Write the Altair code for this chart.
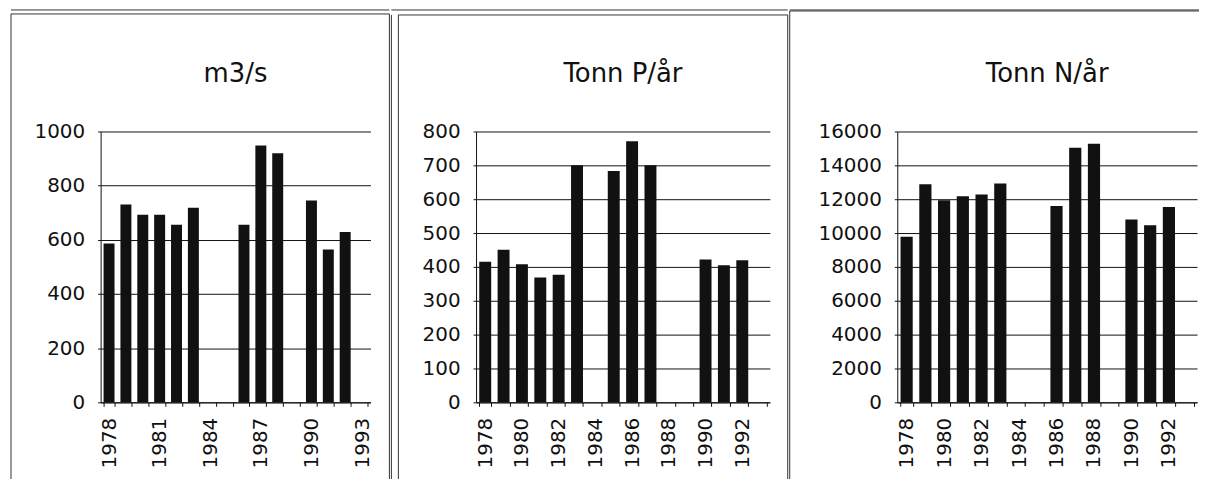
import altair as alt
import pandas as pd

years = list(range(1978, 1994))
flow = [586, 730, 693, 693, 656, 718, None, None, 656, 948, 920, None, 745, 564, 629, None]
phos = [415, 451, 408, 369, 377, 700, None, 683, 771, 700, None, None, 422, 405, 420, None]
nitro = [9780, 12880, 11940, 12170, 12270, 12920, None, None, 11600, 15040, 15270, None, 10800, 10460, 11540, None]

titles = ["m3/s", "Tonn P/år", "Tonn N/år"]
y_max = [1000, 800, 16000]
y_step = [200, 100, 2000]
label_every = [3, 2, 2]

FONT = "DejaVu Sans"
INK = "#111111"
FRAME = "#333333"
H = 272
one = pd.DataFrame({"k": [0]})


def rule(x, x2, y, y2):
    return alt.Chart(one).mark_rule(color=FRAME, strokeWidth=1).encode(
        x=alt.value(x), x2=alt.value(x2), y=alt.value(y), y2=alt.value(y2)
    )


def panel(values, title, ymax, ystep, every, width, frame):
    df = pd.DataFrame({"year": years, "v": values})
    bars = alt.Chart(df).mark_bar(color=INK).encode(
        x=alt.X(
            "year:O",
            scale=alt.Scale(domain=years, paddingInner=0.35, paddingOuter=0.175),
            axis=alt.Axis(
                title=None,
                labelExpr=f"(datum.value - 1978) % {every} == 0 ? datum.label : ''",
                labelAngle=270,
                labelAlign="right",
                labelBaseline="middle",
                labelPadding=11,
                labelFont=FONT,
                labelFontSize=20,
                labelColor=INK,
                labelOverlap=False,
                tickBand="extent",
                tickSize=4,
                tickColor=INK,
                domainColor=INK,
                grid=False,
            ),
        ),
        y=alt.Y(
            "v:Q",
            scale=alt.Scale(domain=[0, ymax], nice=False),
            axis=alt.Axis(
                title=None,
                values=list(range(0, ymax + 1, ystep)),
                format="d",
                labelFont=FONT,
                labelFontSize=20,
                labelColor=INK,
                labelPadding=13,
                tickSize=3,
                tickColor=INK,
                domainColor=INK,
                grid=True,
                gridColor=INK,
                gridWidth=1,
            ),
        ),
    )
    ttl = alt.Chart(one).mark_text(
        text=title, font=FONT, fontSize=26, color=INK,
        align="center", baseline="alphabetic",
    ).encode(x=alt.value(width / 2), y=alt.value(-50))
    layers = [bars, ttl] + frame
    return alt.layer(*layers).properties(width=width, height=H)


W1, W2, W3 = 271, 295, 301
frame1 = [
    rule(-90, -90, -118, 349),
    rule(290, 290, -118, 349),
    rule(-90, 290, -118, -118),
    rule(-90, 290, -122, -122),
]
frame2 = [
    rule(-85, -85, -117, 349),
    rule(-78, -78, -117, 349),
    rule(313, 313, -117, 349),
    rule(-78, 313, -117, -117),
    rule(-85, 313, -122, -122),
]
frame3 = [
    rule(-108, -108, -121, 349),
    rule(-108, 303, -121, -121),
    rule(-108, 303, -122, -122),
]

p1 = panel(flow, titles[0], y_max[0], y_step[0], label_every[0], W1, frame1)
p2 = panel(phos, titles[1], y_max[1], y_step[1], label_every[1], W2, frame2)
p3 = panel(nitro, titles[2], y_max[2], y_step[2], label_every[2], W3, frame3)

chart = alt.hconcat(p1, p2, p3, spacing=0).properties(
    padding={"left": 2, "top": 0, "right": 0, "bottom": 0},
    background="white",
).configure_view(strokeWidth=0)

chart.save("out.html", embed_options={"renderer": "svg", "actions": False})
